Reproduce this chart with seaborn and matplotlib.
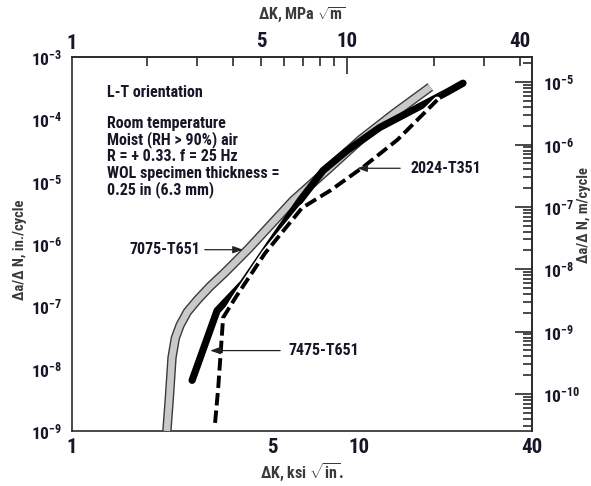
import numpy as np
import pandas as pd
import matplotlib
matplotlib.use("Agg")
import matplotlib.pyplot as plt
import seaborn as sns
from matplotlib import font_manager as fm
from matplotlib.ticker import FixedLocator, FixedFormatter, NullFormatter

# ---------------- data ----------------
k_7075 = [2.14, 2.18, 2.23, 2.29, 2.38, 2.52, 2.73, 3.03, 3.41, 4.11, 5.89, 7.93, 10.1, 13.3, 17.7]
r_7075 = [1.0e-9, 3.1e-9, 1.5e-8, 3.1e-8, 5.0e-8, 8.1e-8, 1.26e-7, 2.1e-7, 3.5e-7, 8.3e-7,
          5.0e-6, 1.7e-5, 4.7e-5, 1.26e-4, 3.3e-4]

k_7475 = [2.62, 3.20, 3.94, 5.18, 6.23, 7.49, 9.08, 11.8, 15.4, 20.3, 23.0]
r_7475 = [6.5e-9, 8.5e-8, 2.34e-7, 1.48e-6, 5.0e-6, 1.51e-5, 3.16e-5, 7.4e-5, 1.41e-4, 2.75e-4, 3.8e-4]

k_2024 = [3.15, 3.23, 3.36, 3.71, 4.70, 6.33, 7.93, 10.3, 13.6, 18.7]
r_2024 = [1.35e-9, 4.9e-9, 6.6e-8, 1.38e-7, 7.1e-7, 3.8e-6, 7.2e-6, 1.7e-5, 4.7e-5, 2.04e-4]

x_ticks_major = [10]
x_ticks_minor = [1, 2, 3, 4, 5, 6, 7, 8, 9, 20, 30, 40]
x_labels_minor = ["1", "", "", "", "5", "", "", "", "", "", "", "40"]
top_ticks_major = [10]
top_ticks_minor = [2, 3, 4, 5, 6, 7, 8, 9, 20, 30, 40]
top_labels_minor = ["", "", "", "5", "", "", "", "", "", "", "40"]
left_exps = [-3, -4, -5, -6, -7, -8, -9]
right_exps = [-5, -6, -7, -8, -9, -10]

info_lines = ["Room temperature", "Moist (RH > 90%) air", "R = + 0.33. f = 25 Hz",
              "WOL specimen thickness =", "0.25 in (6.3 mm)"]

# ---------------- fonts ----------------
sns.set_theme(style="white")


def pick(fams):
    for f in fams:
        try:
            fm.findfont(fm.FontProperties(family=f), fallback_to_default=False)
            return f
        except Exception:
            pass
    return None


FONT = pick(["Liberation Sans Narrow", "Roboto Condensed", "Arial Narrow"])
if FONT is None:
    FONT = "DejaVu Sans"
    plt.rcParams["font.stretch"] = "condensed"
plt.rcParams["font.family"] = [FONT, "DejaVu Sans"]
plt.rcParams["font.weight"] = "bold"
plt.rcParams["axes.labelweight"] = "bold"
plt.rcParams["mathtext.fontset"] = "custom"
plt.rcParams["mathtext.rm"] = f"{FONT}:bold"
plt.rcParams["mathtext.it"] = f"{FONT}:bold"
plt.rcParams["mathtext.bf"] = f"{FONT}:bold"
plt.rcParams["mathtext.default"] = "rm"

TXT = "#161628"
LBL = "#3a3a3a"
SPINE = "#2a2a2a"

fig = plt.figure(figsize=(5.91, 4.86), dpi=100)
ax = fig.add_axes([72 / 591, 1 - 431 / 486, 460 / 591, 374 / 486])
ax.set_xscale("log")
ax.set_yscale("log")
ax.set_xlim(1, 40)
ax.set_ylim(1e-9, 1e-3)

# ---------------- curves ----------------
d7075 = pd.DataFrame({"K": k_7075, "r": r_7075})
d7475 = pd.DataFrame({"K": k_7475, "r": r_7475})
d2024 = pd.DataFrame({"K": k_2024, "r": r_2024})

sns.lineplot(data=d7075, x="K", y="r", ax=ax, sort=False, estimator=None,
             color="#3a3a3a", lw=6.8, zorder=3)
ax.lines[-1].set_solid_capstyle("butt")
ax.lines[-1].set_solid_joinstyle("round")
sns.lineplot(data=d7075, x="K", y="r", ax=ax, sort=False, estimator=None,
             color="#c9c9c9", lw=4.8, zorder=4)
ax.lines[-1].set_solid_capstyle("butt")
ax.lines[-1].set_solid_joinstyle("round")
sns.lineplot(data=d7475, x="K", y="r", ax=ax, sort=False, estimator=None,
             color="black", lw=5.2, zorder=5)
ax.lines[-1].set_solid_capstyle("round")
ax.lines[-1].set_solid_joinstyle("round")
sns.lineplot(data=d2024, x="K", y="r", ax=ax, sort=False, estimator=None,
             color="white", lw=5.0, zorder=6)
sns.lineplot(data=d2024, x="K", y="r", ax=ax, sort=False, estimator=None,
             color="black", lw=2.8, zorder=7)
ax.lines[-1].set_dashes((3.2, 1.3))
ax.lines[-1].set_dash_capstyle("butt")
if ax.get_legend() is not None:
    ax.get_legend().remove()
ax.set_xlabel("")

# ---------------- axes styling ----------------
for s in ax.spines.values():
    s.set_color(SPINE)
    s.set_linewidth(1.2)
    s.set_visible(True)

ax.xaxis.set_major_locator(FixedLocator(x_ticks_major))
ax.xaxis.set_major_formatter(FixedFormatter(["10"]))
ax.xaxis.set_minor_locator(FixedLocator(x_ticks_minor))
ax.xaxis.set_minor_formatter(FixedFormatter(x_labels_minor))
ax.yaxis.set_major_locator(FixedLocator([10.0 ** e for e in left_exps]))
ax.yaxis.set_major_formatter(FixedFormatter([f"10$^{{{e}}}$" for e in left_exps]))
ymin = [m * 10.0 ** e for e in range(-9, -3) for m in range(2, 10)]
ax.yaxis.set_minor_locator(FixedLocator(ymin))
ax.yaxis.set_minor_formatter(NullFormatter())

ax.tick_params(axis="both", which="both", direction="in", color=SPINE, width=1.2,
               top=False, right=False)
ax.tick_params(axis="x", which="major", length=12, pad=5, labelsize=15, labelcolor=TXT)
ax.tick_params(axis="x", which="minor", length=6.5, pad=5, labelsize=15, labelcolor=TXT)
ax.tick_params(axis="y", which="major", length=12, pad=7, labelsize=12.5, labelcolor=TXT)
ax.tick_params(axis="y", which="minor", length=6.5)

# top axis in MPa sqrt(m)
top = ax.secondary_xaxis("top", functions=(lambda k: k * 1.0988, lambda m: m / 1.0988))
top.xaxis.set_major_locator(FixedLocator(top_ticks_major))
top.xaxis.set_major_formatter(FixedFormatter(["10"]))
top.xaxis.set_minor_locator(FixedLocator(top_ticks_minor))
top.xaxis.set_minor_formatter(FixedFormatter(top_labels_minor))
top.tick_params(axis="x", which="both", direction="in", color=SPINE, width=1.2)
top.tick_params(axis="x", which="major", length=12, pad=4, labelsize=15, labelcolor=TXT)
top.tick_params(axis="x", which="minor", length=6.5, pad=4, labelsize=15, labelcolor=TXT)
top.spines["top"].set_color(SPINE)
top.spines["top"].set_linewidth(1.2)
ax.text(1, 1.012, "1", transform=ax.get_xaxis_transform(), ha="center", va="bottom",
        fontsize=15, color=TXT)

# right axis in m/cycle
right = ax.secondary_yaxis("right", functions=(lambda a: a * 0.0254, lambda b: b / 0.0254))
right.yaxis.set_major_locator(FixedLocator([10.0 ** e for e in right_exps]))
right.yaxis.set_major_formatter(FixedFormatter([f"10$^{{{e}}}$" for e in right_exps]))
rmin = [m * 10.0 ** e for e in range(-11, -4) for m in range(2, 10)]
right.yaxis.set_minor_locator(FixedLocator(rmin))
right.yaxis.set_minor_formatter(NullFormatter())
right.tick_params(axis="y", which="both", direction="in", color=SPINE, width=1.2)
right.tick_params(axis="y", which="major", length=12, pad=8, labelsize=12.5, labelcolor=TXT)
right.tick_params(axis="y", which="minor", length=6.5)
right.spines["right"].set_color(SPINE)
right.spines["right"].set_linewidth(1.2)

# axis titles
fig.text(302 / 591, 1 - 15 / 486, r"ΔK, MPa $\sqrt{\mathrm{m}}$", fontsize=11.5,
         color=LBL, ha="center", va="center")
fig.text(584 / 591, 1 - 215 / 486, "Δa/Δ N, m/cycle", fontsize=10.5, color=LBL,
         rotation=90, ha="center", va="center")
fig.text(302 / 591, 1 - 472 / 486, r"ΔK, ksi $\sqrt{\mathrm{in}}$.", fontsize=11.5,
         color=LBL, ha="center", va="center")
ax.set_ylabel("Δa/Δ N, in./cycle", fontsize=10.5, color=LBL)
ax.yaxis.set_label_coords(-0.097, 0.485)

# ---------------- annotations ----------------
ax.text(0.076, 0.906, "L-T orientation", transform=ax.transAxes, fontsize=11.5,
        color=TXT, ha="left", va="center")
for i, line in enumerate(info_lines):
    ax.text(0.076, 0.823 - i * 0.0445, line, transform=ax.transAxes, fontsize=11.5,
            color=TXT, ha="left", va="center")

arrow = dict(arrowstyle="-|>,head_length=0.5,head_width=0.18", color="#222222", lw=0.9,
             shrinkA=0, shrinkB=0)
ax.text(2.79, 8.1e-7, "7075-T651", fontsize=11.5, color=TXT, ha="right", va="center")
ax.annotate("", xy=(3.94, 8.1e-7), xytext=(2.90, 8.1e-7), arrowprops=arrow, zorder=8)

ax.text(5.66, 1.95e-8, "7475-T651", fontsize=11.5, color=TXT, ha="left", va="center")
ax.annotate("", xy=(3.03, 1.95e-8), xytext=(5.31, 1.95e-8), arrowprops=arrow, zorder=8)

ax.text(15.1, 1.64e-5, "2024-T351", fontsize=11.5, color=TXT, ha="left", va="center")
ax.annotate("", xy=(9.84, 1.64e-5), xytext=(13.9, 1.64e-5), arrowprops=arrow, zorder=8)

fig.savefig("out.png", dpi=100, facecolor="white")
